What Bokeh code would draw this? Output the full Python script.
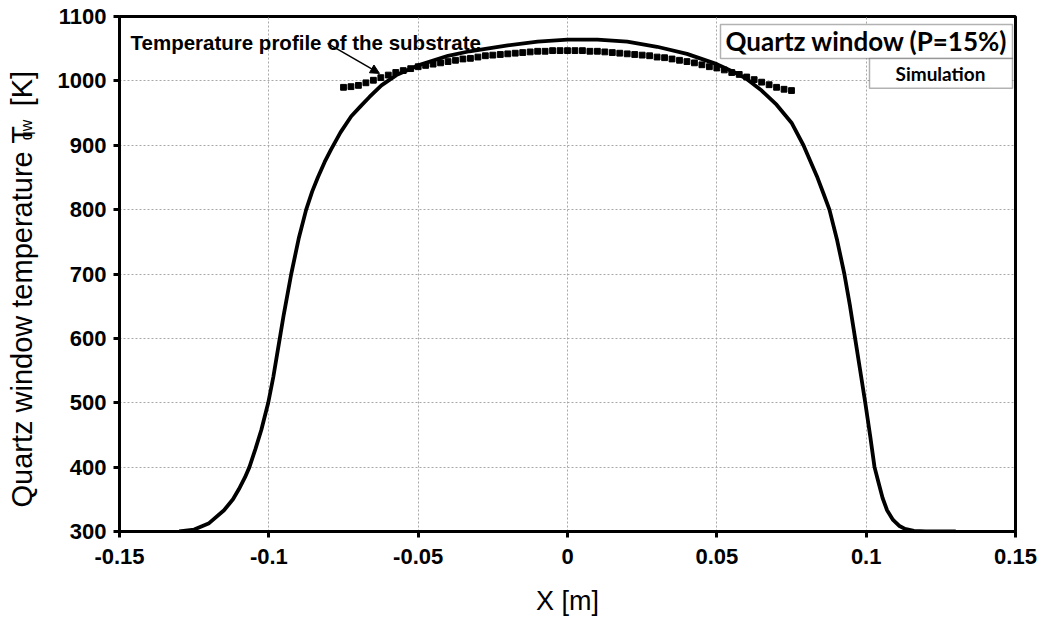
import math
from bokeh.plotting import figure
from bokeh.layouts import row
from bokeh.models import (Range1d, Label, BoxAnnotation, Arrow, NormalHead,
                          CustomJSTickFormatter)
from bokeh.core.properties import value
from bokeh.embed import file_html
from bokeh.resources import INLINE

# ---------------- data ----------------
curve_x = [-0.130, -0.125, -0.120, -0.115, -0.112, -0.110, -0.108, -0.1065, -0.1045, -0.1025,
           -0.1002, -0.0985, -0.0967, -0.0950, -0.0925, -0.0900, -0.0875, -0.0855, -0.0836, -0.0813,
           -0.0791, -0.0760, -0.0724, -0.0690, -0.0663, -0.0623, -0.0573, -0.050, -0.040, -0.0328,
           -0.020, -0.010, 0.000, 0.010, 0.020, 0.030, 0.040, 0.050, 0.056, 0.060,
           0.065, 0.070, 0.075, 0.079, 0.0835, 0.0857, 0.0877, 0.0903, 0.0927, 0.0946,
           0.0963, 0.0980, 0.0997, 0.1013, 0.1028, 0.1042, 0.1055, 0.107, 0.109, 0.111,
           0.113, 0.116, 0.120, 0.130]
curve_t = [300, 303, 313, 333, 350, 366, 384, 400, 428, 458,
           500, 540, 590, 637, 700, 755, 800, 828, 850, 874,
           894, 920, 945, 962, 975, 993, 1009, 1024, 1039, 1046,
           1055, 1061, 1064, 1064, 1061, 1053, 1042, 1026, 1013, 1003,
           985, 963, 935, 900, 852, 825, 800, 752, 700, 650,
           600, 550, 500, 450, 400, 375, 352, 333, 318, 309,
           304, 301, 300.3, 300]

substrate_x = [-0.0750, -0.0725, -0.0700, -0.0675, -0.0650, -0.0625, -0.0600, -0.0575, -0.0550, -0.0525,
               -0.0500, -0.0475, -0.0450, -0.0425, -0.0400, -0.0375, -0.0350, -0.0325, -0.0300, -0.0275,
               -0.0250, -0.0225, -0.0200, -0.0175, -0.0150, -0.0125, -0.0100, -0.0075, -0.0050, -0.0025,
               0.0000, 0.0025, 0.0050, 0.0075, 0.0100, 0.0125, 0.0150, 0.0175, 0.0200, 0.0225,
               0.0250, 0.0275, 0.0300, 0.0325, 0.0350, 0.0375, 0.0400, 0.0425, 0.0450, 0.0475,
               0.0500, 0.0525, 0.0550, 0.0575, 0.0600, 0.0625, 0.0650, 0.0675, 0.0700, 0.0725,
               0.0750]
substrate_t = [990, 991, 993, 997, 1001, 1005, 1009, 1013, 1016, 1019,
               1022, 1024, 1026, 1028, 1030, 1032, 1034, 1035, 1037, 1039,
               1040, 1041, 1042, 1043, 1044, 1045, 1046, 1046, 1047, 1047,
               1047, 1047, 1047, 1046, 1046, 1045, 1044, 1043, 1042, 1041,
               1040, 1039, 1037, 1036, 1034, 1032, 1030, 1028, 1025, 1022,
               1020, 1017, 1013, 1010, 1006, 1002, 998, 994, 990, 987,
               985]

x_ticks = [-0.15, -0.1, -0.05, 0.0, 0.05, 0.1, 0.15]
x_tick_labels = ["-0.15", "-0.1", "-0.05", "0", "0.05", "0.1", "0.15"]
y_ticks = [300, 400, 500, 600, 700, 800, 900, 1000, 1100]

x_title = "X [m]"
y_title_main = "Quartz window temperature T"
y_title_sub = "qw"
y_title_end = "[K]"
legend_title = "Quartz window (P=15%)"
legend_entry = "Simulation"
annotation_text = "Temperature profile of the substrate"

# ---------------- layout ----------------
PAGE_W, PAGE_H = 1048, 618
TW = 50                      # narrow strip holding the rotated y title
W, H = PAGE_W - TW, PAGE_H
BL, BT = 69, 16
FW, FH = 896, 516
BR, BB = W - BL - FW, H - BT - FH
X0, X1, Y0, Y1 = -0.15, 0.15, 300, 1100
OX, OY = TW + BL, BT          # frame origin on the page


def dx(px):
    return X0 + (px - OX) / FW * (X1 - X0)


def dy(py):
    return Y1 - (py - OY) / FH * (Y1 - Y0)


p = figure(width=W, height=H, x_range=Range1d(X0, X1), y_range=Range1d(Y0, Y1),
           output_backend="svg", toolbar_location=None,
           min_border_left=BL, min_border_right=BR, min_border_top=BT, min_border_bottom=BB)
p.background_fill_color = "white"
p.border_fill_color = "white"
p.outline_line_color = "black"
p.outline_line_width = 3

for ax in (p.xaxis[0], p.yaxis[0]):
    ax.axis_line_width = 3
    ax.axis_line_color = "black"
    ax.major_tick_line_width = 3
    ax.major_tick_line_color = "black"
    ax.major_tick_out = 6
    ax.major_tick_in = 0
    ax.minor_tick_out = 0
    ax.minor_tick_in = 0
    ax.major_label_text_font = "Liberation Sans"
    ax.major_label_text_font_style = "bold"
    ax.major_label_text_font_size = "22px"
    ax.major_label_text_color = "black"

p.xaxis.ticker = x_ticks
p.xaxis.formatter = CustomJSTickFormatter(args=dict(labels=x_tick_labels),
                                          code="return labels[index];")
p.xaxis.major_label_standoff = 11
p.xaxis.axis_label = x_title
p.xaxis.axis_label_text_font = "Liberation Sans"
p.xaxis.axis_label_text_font_style = "normal"
p.xaxis.axis_label_text_font_size = "27px"
p.xaxis.axis_label_text_color = "black"
p.xaxis.axis_label_standoff = 19
p.yaxis.ticker = y_ticks
p.yaxis.major_label_standoff = 7

for g in (p.xgrid[0], p.ygrid[0]):
    g.grid_line_color = "#a8a8a8"
    g.grid_line_dash = "2 2"
    g.grid_line_width = 1

# curves
p.line(curve_x, curve_t, line_color="black", line_width=3.8)
p.scatter(substrate_x, substrate_t, marker="square", size=5.8,
          fill_color="black", line_color="black")

# annotation + arrow
p.add_layout(Label(x=dx(130), y=dy(42), text=annotation_text,
                   text_font="Liberation Sans", text_font_style="bold",
                   text_font_size="20.5px", text_color="black",
                   text_align="left", text_baseline="alphabetic"))
p.add_layout(Arrow(x_start=dx(327), y_start=dy(43), x_end=dx(379), y_end=dy(73),
                   line_color="black", line_width=1.5,
                   end=NormalHead(size=9, fill_color="black", line_color="black")))

# legend-like boxes
p.add_layout(BoxAnnotation(left=dx(720), right=dx(1012), top=dy(24), bottom=dy(58),
                           fill_color="white", fill_alpha=1, line_color="black", line_width=1.5))
p.add_layout(BoxAnnotation(left=dx(869), right=dx(1012), top=dy(58), bottom=dy(88),
                           fill_color="white", fill_alpha=1, line_color="black", line_width=1.5))
p.add_layout(Label(x=dx(866), y=dy(41), text=legend_title,
                   text_font="Lato", text_font_style="bold", text_font_size="26px",
                   text_color="black", text_align="center", text_baseline="middle"))
p.add_layout(Label(x=dx(940), y=dy(73), text=legend_entry,
                   text_font="Lato", text_font_style="bold", text_font_size="19px",
                   text_color="black", text_align="center", text_baseline="middle"))

# ---------------- rotated y title in a narrow strip on the left ----------------
# the strip's frame spans the same vertical extent as the main frame
t = figure(width=TW, height=H, x_range=Range1d(0, TW), y_range=Range1d(BB, H - BT),
           output_backend="svg", toolbar_location=None,
           x_axis_location=None, y_axis_location=None,
           min_border_left=0, min_border_right=0, min_border_top=BT, min_border_bottom=BB)
t.grid.visible = False
t.outline_line_color = None
t.background_fill_color = "white"
t.border_fill_color = "white"

title_parts = [y_title_main, y_title_sub, y_title_end]
title_px = [21, 26, 21]          # baseline position (strip px)
title_py = [508, 140, 106]       # start of each part (page px, text runs upward)
title_sizes = ["29px", "16px", "29px"]
for txt, px, py, sz in zip(title_parts, title_px, title_py, title_sizes):
    t.text(x=[px], y=[H - py], text=[txt], angle=math.pi / 2,
           text_font=value("Liberation Sans"), text_font_size=value(sz),
           text_color="black", text_align="left", text_baseline="alphabetic")

layout = row(t, p, spacing=0)
open("out.html", "w").write(file_html(layout, INLINE))
